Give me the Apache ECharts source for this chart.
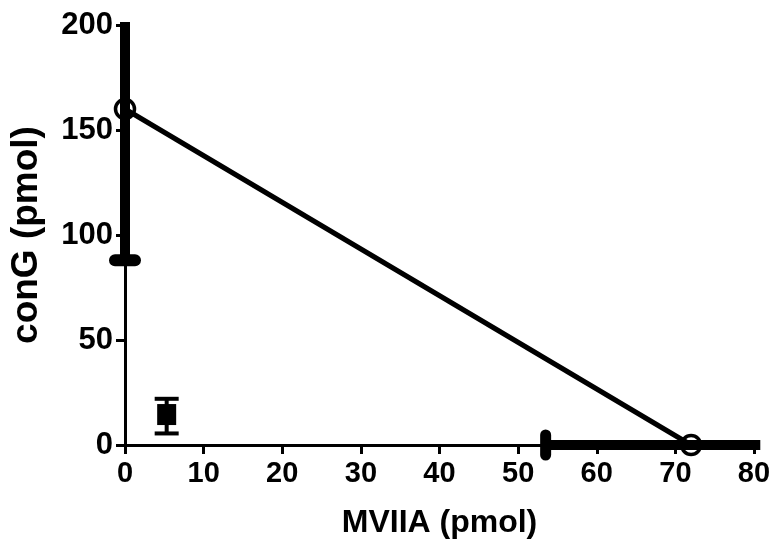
<!DOCTYPE html>
<html><head><meta charset="utf-8">
<script src="https://cdn.jsdelivr.net/npm/echarts@6/dist/echarts.min.js"></script>
<style>html,body{margin:0;padding:0;background:#fff}#c{width:776px;height:554px}</style>
</head><body><div id="c"></div>
<script>
// Additive line (theoretical isobole) endpoints: [MVIIA, conG]
var isobole = [[0, 160], [72, 0]];
// Single-drug ED50s with error ranges: [x, y, xLow, xHigh, yLow, yHigh]
var conGAlone = [0, 160, 0, 0, 88, 200];
var mviiaAlone = [72, 0, 53.5, 80.8, 0, 0];
// Experimental mixture point: [x, y, yLow, yHigh]
var mixture = [5.3, 14.5, 5.5, 22];
var xTicks = [0, 10, 20, 30, 40, 50, 60, 70, 80];
var yTicks = [0, 50, 100, 150, 200];

var font = 'Liberation Sans, Arial, sans-serif';
var chart = echarts.init(document.getElementById('c'));

function thickBars(params, api) {
  var x = api.value(0), y = api.value(1);
  var xl = api.value(2), xh = api.value(3), yl = api.value(4), yh = api.value(5);
  var w = api.value(6), capHalf = api.value(7), capW = api.value(8);
  var kids = [];
  var st = {stroke: '#000', lineWidth: capW, lineCap: 'round'};
  if (yl !== yh) {
    var a = api.coord([x, yl]), b = api.coord([x, yh]);
    kids.push({type: 'line', shape: {x1: a[0], y1: a[1], x2: b[0], y2: b[1] - 3}, style: {stroke: '#000', lineWidth: w}});
    kids.push({type: 'line', shape: {x1: a[0] - capHalf, y1: a[1], x2: a[0] + capHalf, y2: a[1]}, style: st});
  }
  if (xl !== xh) {
    var c = api.coord([xl, y]), d = api.coord([xh, y]);
    kids.push({type: 'line', shape: {x1: c[0], y1: c[1], x2: d[0], y2: d[1]}, style: {stroke: '#000', lineWidth: w}});
    kids.push({type: 'line', shape: {x1: c[0], y1: c[1] - capHalf, x2: c[0], y2: c[1] + capHalf}, style: st});
  }
  return {type: 'group', children: kids};
}

function mixBars(params, api) {
  var x = api.value(0);
  var lo = api.coord([x, api.value(2)]), hi = api.coord([x, api.value(3)]);
  var cap = 12;
  var st = {stroke: '#000', lineWidth: 4};
  return {type: 'group', children: [
    {type: 'line', shape: {x1: lo[0], y1: lo[1], x2: hi[0], y2: hi[1]}, style: st},
    {type: 'line', shape: {x1: lo[0] - cap, y1: lo[1], x2: lo[0] + cap, y2: lo[1]}, style: st},
    {type: 'line', shape: {x1: hi[0] - cap, y1: hi[1], x2: hi[0] + cap, y2: hi[1]}, style: st}
  ]};
}

chart.setOption({
  animation: false,
  backgroundColor: '#fff',
  grid: {left: 120, right: 22, top: 25, bottom: 109},
  xAxis: {
    type: 'value', min: xTicks[0], max: xTicks[xTicks.length - 1], interval: 10,
    name: 'MVIIA (pmol)', nameLocation: 'middle', nameGap: 62,
    nameTextStyle: {fontFamily: font, fontWeight: 'bold', fontSize: 32, color: '#000'},
    axisLine: {lineStyle: {color: '#000', width: 3}},
    axisTick: {length: 9, lineStyle: {color: '#000', width: 3}},
    axisLabel: {fontFamily: font, fontWeight: 'bold', fontSize: 29, color: '#000', margin: 14},
    splitLine: {show: false}
  },
  yAxis: {
    type: 'value', min: yTicks[0], max: yTicks[yTicks.length - 1], interval: 50,
    name: 'conG (pmol)', nameLocation: 'middle', nameGap: 80,
    nameTextStyle: {fontFamily: font, fontWeight: 'bold', fontSize: 37, color: '#000'},
    axisLine: {lineStyle: {color: '#000', width: 3}},
    axisTick: {length: 9, lineStyle: {color: '#000', width: 3}},
    axisLabel: {fontFamily: font, fontWeight: 'bold', fontSize: 31, color: '#000', margin: 12},
    splitLine: {show: false}
  },
  series: [
    {type: 'custom', renderItem: thickBars, clip: false, z: 3,
     data: [conGAlone.concat([10, 10, 12]), mviiaAlone.concat([10, 10, 11])]},
    {type: 'custom', renderItem: mixBars, clip: false, z: 3, data: [mixture]},
    {type: 'line', data: isobole, z: 4, lineStyle: {color: '#000', width: 5},
     symbol: 'circle', symbolSize: 19,
     itemStyle: {color: 'rgba(0,0,0,0)', borderColor: '#000', borderWidth: 3.5}},
    {type: 'scatter', data: [[mixture[0], mixture[1]]], z: 5, symbol: 'rect', symbolSize: [19, 21],
     itemStyle: {color: '#000', opacity: 1}}
  ]
});
</script></body></html>
